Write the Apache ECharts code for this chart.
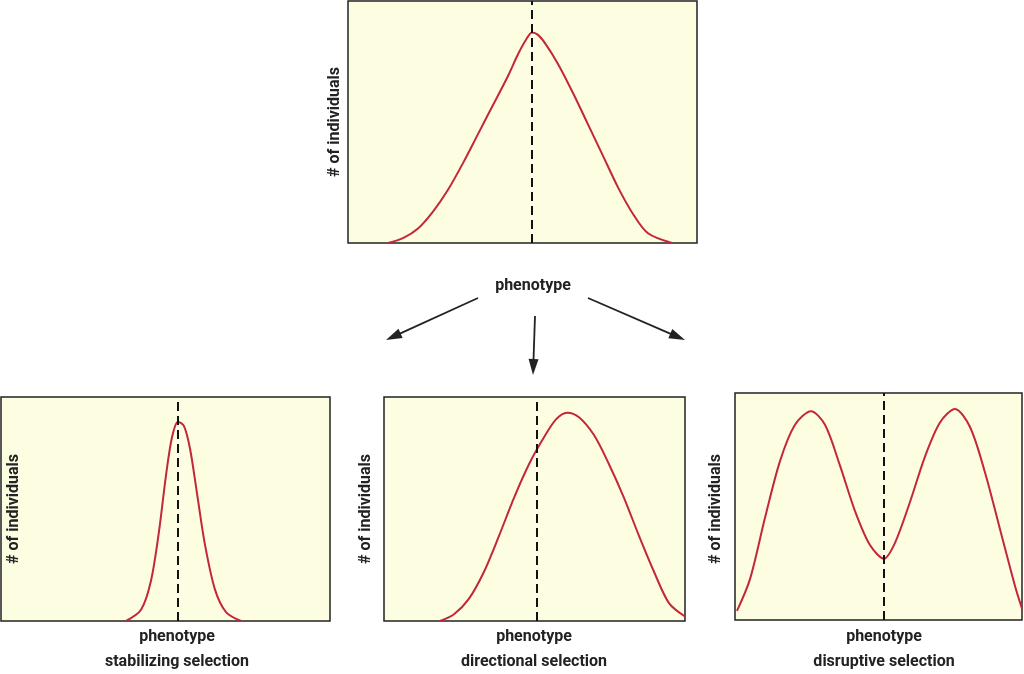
<!DOCTYPE html>
<html><head><meta charset="utf-8">
<script src="https://cdn.jsdelivr.net/npm/echarts@6/dist/echarts.min.js"></script>
<style>html,body{margin:0;background:#fff}#c{width:1024px;height:674px}</style>
</head><body><div id="c"></div>
<script>
// x in panel pixels from left edge, y as % of panel height
var topX = [40,55,70,85,100,115,130,145,160,170,178,184,190,198,210,225,240,255,270,285,300,324];
var topY = [0,2,6,13,22,33,45,57,69,78,84,87,86,82,74,62,49,36,23,12,4,0];
var stabX = [125,140,150,158,165,171,177,183,189,196,204,214,225,240];
var stabY = [0,5,18,40,65,82,89,87,77,57,34,14,4,0];
var dirX = [56,70,85,100,115,130,145,160,172,183,195,210,225,240,255,270,285,301];
var dirY = [0,3,10,22,38,55,70,82,90,93,91,83,70,55,38,22,8,2];
var disX = [2,15,30,45,60,76,90,105,120,135,149,160,175,190,205,220,235,250,265,280,287];
var disY = [4,18,45,70,86,92,86,68,48,33,27,34,52,72,87,93,85,65,40,15,5];
var dashAt = [184,177,153,149];
var panels = [
  {x:topX,y:topY,l:348,t:1,w:349,h:242},
  {x:stabX,y:stabY,l:1,t:397,w:329,h:224},
  {x:dirX,y:dirY,l:384,t:397,w:301,h:224},
  {x:disX,y:disY,l:735,t:393,w:287,h:227}
];
var ch = echarts.init(document.getElementById('c'));
var grids=[],xs=[],ys=[],series=[];
panels.forEach(function(p,i){
  grids.push({left:p.l,top:p.t,width:p.w,height:p.h,show:true,backgroundColor:'#fdfde2',borderColor:'#222',borderWidth:1.5});
  xs.push({type:'value',gridIndex:i,min:0,max:p.w,show:false});
  ys.push({type:'value',gridIndex:i,min:0,max:100,show:false});
  series.push({type:'line',xAxisIndex:i,yAxisIndex:i,smooth:0.3,symbol:'none',
    data:p.x.map(function(v,k){return [v,p.y[k]];}),
    lineStyle:{color:'#c4263c',width:2},
    markLine:{symbol:'none',silent:true,label:{show:false},
      lineStyle:{color:'#111',type:[9,5],width:2},data:[{xAxis:dashAt[i]}]}});
});
var tf = {fontFamily:'Roboto',fontWeight:'bold',fontSize:16,fill:'#222'};
function txt(x,y,s,rot){return {type:'text',x:x,y:y,rotation:rot?Math.PI/2:0,
  style:Object.assign({text:s,align:'center',verticalAlign:'middle'},tf)};}
function arrow(x1,y1,x2,y2){
  var a=Math.atan2(y2-y1,x2-x1),L=16,W=5;
  return [{type:'line',shape:{x1:x1,y1:y1,x2:x2-Math.cos(a)*8,y2:y2-Math.sin(a)*8},style:{stroke:'#222',lineWidth:1.8}},
   {type:'polygon',shape:{points:[[x2,y2],[x2-L*Math.cos(a)+W*Math.sin(a),y2-L*Math.sin(a)-W*Math.cos(a)],
     [x2-L*Math.cos(a)-W*Math.sin(a),y2-L*Math.sin(a)+W*Math.cos(a)]]},style:{fill:'#222'}}];
}
var g=[txt(335,122,'# of individuals',true),txt(533,286,'phenotype'),
  txt(14,509,'# of individuals',true),txt(177,637,'phenotype'),txt(177,662,'stabilizing selection'),
  txt(366,509,'# of individuals',true),txt(534,637,'phenotype'),txt(534,662,'directional selection'),
  txt(716,509,'# of individuals',true),txt(884,637,'phenotype'),txt(884,662,'disruptive selection')];
g=g.concat(arrow(478,298,386,340),arrow(535,316,533,375),arrow(588,298,685,340));
ch.setOption({animation:false,grid:grids,xAxis:xs,yAxis:ys,series:series,graphic:g});
</script></body></html>
